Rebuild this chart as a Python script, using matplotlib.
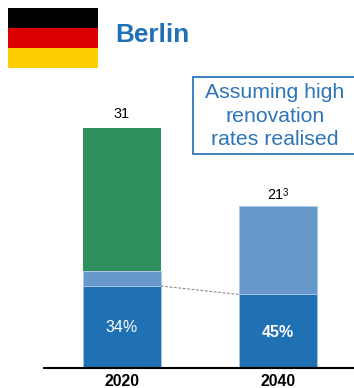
import matplotlib
matplotlib.use('Agg')
import matplotlib.pyplot as plt
from matplotlib.patches import Rectangle
import numpy as np

# Data
years = ['2020', '2040']
dark_share = [10.54, 9.45]
light_part = [1.96, 11.45]
green_part = [18.5, 0]
totals = ['31', '21']
pct_labels = ['34%', '45%']
pct_weights = ['normal', 'bold']

# Colours
DARK = '#2070B4'
LIGHT = '#6699CA'
GREEN = '#2E8F5E'
EDGE = '#A9C6E3'
NOTE = '#2E75B6'
flag_colours = ['#000000', '#DD0000', '#FFCE00']

W, H = 354, 388
plt.rcParams['font.family'] = ['Liberation Sans', 'DejaVu Sans']

fig = plt.figure(figsize=(W / 100, H / 100), dpi=100)


def px_rect(left, top, right, bottom):
    return [left / W, 1 - bottom / H, (right - left) / W, (bottom - top) / H]


# Bars
ax = fig.add_axes(px_rect(44, 100, 354, 367.5))
x = np.arange(len(years))
dark = np.array(dark_share)
light = np.array(light_part)
green = np.array(green_part)
bar_w = 0.5

ax.bar(x, dark, bar_w, color=DARK, edgecolor=EDGE, linewidth=0.6)
ax.bar(x, light, bar_w, bottom=dark, color=LIGHT, edgecolor=EDGE, linewidth=0.6)
ax.bar(x, green, bar_w, bottom=dark + light, color=GREEN, linewidth=0)

ax.set_xlim(-0.498, 1.489)
ax.set_ylim(0, 267.5 / 7.73)
ax.plot([x[0] + bar_w / 2, x[1] - bar_w / 2], [dark[0], dark[1]], color='#8C8C8C',
        linewidth=0.8, linestyle=(0, (2.5, 1.5)))

for i in x:
    ax.text(i, dark[i] / 2 - 0.15, pct_labels[i], color='white', ha='center', va='center',
            fontsize=11.5, fontweight=pct_weights[i])

ax.text(x[0], (dark + light + green)[0] + 1.75, totals[0], ha='center', va='center',
        fontsize=10.4, color='black')
ax.text(x[1] - 0.018, (dark + light + green)[1] + 1.45, totals[1], ha='center', va='center',
        fontsize=10.4, color='black')
ax.text(x[1] + 0.05, (dark + light + green)[1] + 1.65, '3', ha='center', va='center',
        fontsize=7, color='black')

for s in ['top', 'left', 'right']:
    ax.spines[s].set_visible(False)
ax.spines['bottom'].set_linewidth(1.5)
ax.set_yticks([])
ax.set_xticks(x)
ax.set_xticklabels(years, fontsize=11.3, fontweight='bold')
ax.tick_params(axis='x', length=0, pad=5)
ax.patch.set_alpha(0)

# Flag
for i, c in enumerate(flag_colours):
    fig.add_artist(Rectangle((8 / W, 1 - (28 + 20 * i) / H), 90 / W, 20 / H,
                             transform=fig.transFigure, facecolor=c, linewidth=0))

# Title
fig.text(115 / W, 1 - 34.5 / H, 'Berlin', color=DARK, fontsize=18.8, fontweight='bold',
         ha='left', va='center')

# Note box
fig.add_artist(Rectangle((193 / W, 1 - 154.5 / H), 170 / W, 77 / H, transform=fig.transFigure,
                         facecolor='white', edgecolor=NOTE, linewidth=1.3))
fig.text(275 / W, 1 - 116 / H, 'Assuming high\nrenovation\nrates realised', color=NOTE,
         fontsize=15.3, ha='center', va='center', linespacing=1.3)

fig.savefig('out.png', dpi=100)
